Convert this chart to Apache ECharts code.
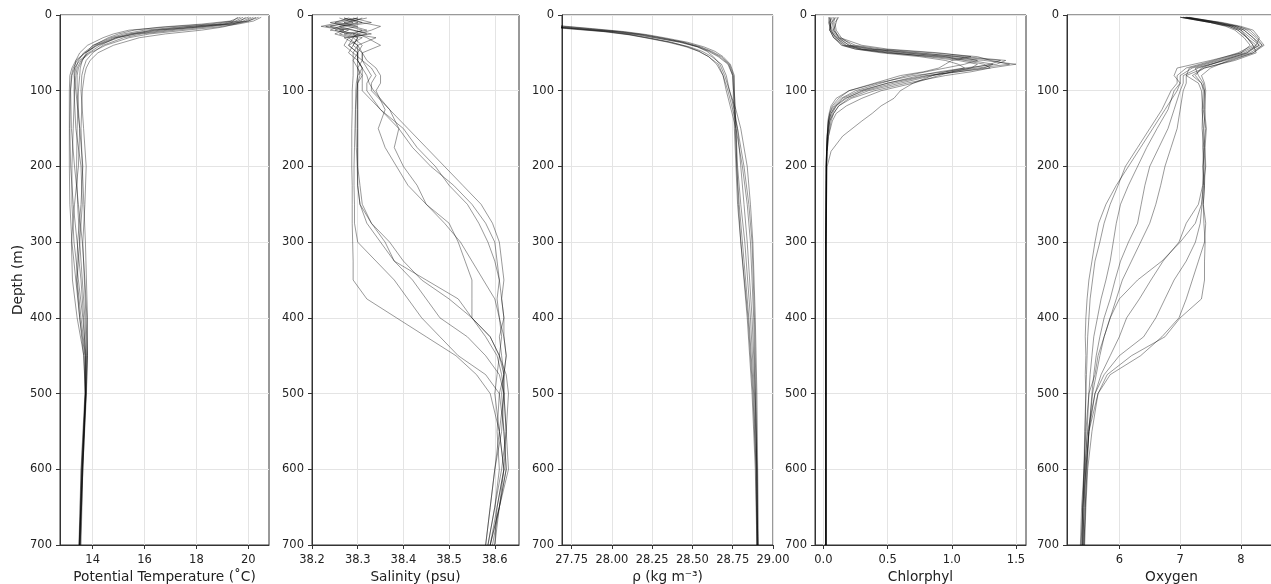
<!DOCTYPE html>
<html><head><meta charset="utf-8">
<script src="https://cdn.jsdelivr.net/npm/echarts@6/dist/echarts.min.js"></script>
<style>html,body{margin:0;padding:0;background:#fff}#c{width:1271px;height:584px}</style>
</head><body><div id="c"></div>
<script>
// ---------- DATA ----------
const DEPTH_TICKS = [0,100,200,300,400,500,600,700];

// Potential temperature profiles
const T_DEPTH = [3,8,12,16,20,25,30,40,50,60,70,80,100,150,200,250,300,350,400,450,500,600,700];
const TEMP = [
 [20.2,19.9,19.2,17.8,16.6,15.6,15.0,14.2,13.7,13.35,13.2,13.12,13.1,13.1,13.1,13.12,13.2,13.35,13.5,13.65,13.72,13.6,13.48],
 [19.9,19.7,19.0,17.3,16.0,15.2,14.7,14.0,13.75,13.6,13.52,13.5,13.45,13.4,13.38,13.42,13.5,13.6,13.7,13.76,13.74,13.62,13.52],
 [20.5,20.2,19.6,18.8,17.6,16.2,15.4,14.5,13.9,13.55,13.4,13.35,13.3,13.25,13.2,13.2,13.28,13.45,13.62,13.74,13.72,13.58,13.5],
 [19.6,19.4,18.5,16.8,15.4,14.8,14.4,13.8,13.5,13.35,13.3,13.28,13.35,13.5,13.62,13.55,13.42,13.38,13.5,13.7,13.72,13.6,13.5],
 [20.1,19.8,19.4,18.4,17.2,15.9,15.2,14.4,14.0,13.75,13.65,13.58,13.55,13.65,13.75,13.7,13.62,13.68,13.74,13.8,13.76,13.62,13.55],
 [19.8,19.5,18.8,17.5,16.3,15.4,14.8,14.1,13.8,13.6,13.45,13.4,13.4,13.5,13.45,13.3,13.18,13.22,13.4,13.66,13.72,13.56,13.48],
 [20.3,20.0,19.5,19.0,18.2,16.8,15.8,14.8,14.2,13.9,13.75,13.68,13.6,13.55,13.6,13.66,13.72,13.76,13.8,13.78,13.74,13.62,13.52],
 [19.7,19.3,18.2,16.6,15.6,15.0,14.6,14.05,13.65,13.45,13.35,13.3,13.28,13.35,13.55,13.6,13.5,13.4,13.55,13.72,13.73,13.6,13.5],
 [20.0,19.6,19.1,18.0,16.9,15.7,14.9,14.3,13.85,13.5,13.3,13.2,13.15,13.18,13.3,13.45,13.6,13.7,13.78,13.8,13.75,13.58,13.5],
 [20.4,20.0,19.3,18.1,16.4,15.5,14.9,14.15,13.7,13.4,13.25,13.18,13.14,13.12,13.15,13.25,13.4,13.55,13.65,13.72,13.7,13.55,13.47]
];

// Salinity profiles
const S_DEPTH = [4,10,15,20,25,30,40,50,60,70,80,90,100,125,150,175,200,225,250,275,300,325,350,375,400,425,450,475,500,550,600,650,700];
const SAL = [
 [38.30,38.26,38.22,38.27,38.25,38.28,38.27,38.29,38.29,38.29,38.29,38.289, 38.288,38.288,38.287,38.287,38.287,38.288,38.288,38.288,38.289,38.29,38.29,38.32,38.385,38.45,38.515,38.56,38.59,38.61,38.62,38.605,38.60],
 [38.27,38.31,38.26,38.24,38.30,38.29,38.28,38.30,38.29,38.30,38.30,38.297, 38.296,38.295,38.294,38.293,38.292,38.292,38.293,38.293,38.30,38.34,38.38,38.41,38.44,38.48,38.52,38.58,38.61,38.62,38.625,38.61,38.59],
 [38.28,38.25,38.29,38.32,38.27,38.30,38.29,38.28,38.30,38.30,38.31,38.30, 38.298,38.296,38.296,38.297,38.299,38.30,38.305,38.32,38.35,38.38,38.42,38.45,38.48,38.54,38.58,38.61,38.62,38.625,38.63,38.61,38.59],
 [38.31,38.28,38.24,38.29,38.33,38.27,38.30,38.29,38.31,38.30,38.305,38.30, 38.30,38.30,38.30,38.30,38.30,38.305,38.31,38.33,38.37,38.40,38.44,38.50,38.55,38.59,38.61,38.62,38.62,38.615,38.60,38.59,38.58],
 [38.29,38.33,38.27,38.25,38.28,38.31,38.28,38.30,38.30,38.31,38.30,38.30, 38.30,38.30,38.30,38.30,38.30,38.30,38.305,38.33,38.36,38.38,38.45,38.52,38.55,38.58,38.605,38.615,38.62,38.625,38.615,38.60,38.585],
 [38.26,38.29,38.23,38.28,38.26,38.29,38.31,38.30,38.30,38.31,38.32,38.325, 38.335,38.37,38.41,38.45,38.49,38.53,38.57,38.595,38.61,38.615,38.62,38.615,38.62,38.62,38.625,38.62,38.62,38.61,38.60,38.59,38.58],
 [38.32,38.27,38.30,38.26,38.29,38.34,38.30,38.31,38.31,38.32,38.33,38.32, 38.32,38.35,38.39,38.42,38.46,38.51,38.55,38.58,38.60,38.605,38.61,38.605,38.61,38.615,38.61,38.605,38.60,38.61,38.62,38.61,38.60],
 [38.28,38.31,38.35,38.33,38.30,38.32,38.35,38.31,38.32,38.34,38.35,38.35, 38.34,38.36,38.345,38.36,38.385,38.41,38.45,38.49,38.525,38.55,38.575,38.60,38.61,38.62,38.625,38.62,38.615,38.62,38.625,38.61,38.595],
 [38.30,38.24,38.28,38.31,38.29,38.30,38.29,38.31,38.31,38.33,38.34,38.33, 38.33,38.37,38.39,38.38,38.40,38.43,38.45,38.50,38.52,38.535,38.55,38.55,38.55,38.59,38.61,38.625,38.63,38.625,38.62,38.605,38.59],
 [38.27,38.30,38.26,38.29,38.32,38.28,38.30,38.30,38.30,38.31,38.31,38.31, 38.31,38.35,38.40,38.43,38.47,38.50,38.54,38.565,38.585,38.60,38.61,38.615,38.62,38.61,38.615,38.62,38.61,38.605,38.61,38.60,38.585]
];

// Density profiles
const D_DEPTH = [10,15,18,22,26,31,36,42,48,55,65,80,100,125,150,200,250,300,400,500,600,700];
const RHO = [
 [27.3,27.6,27.78,28.0,28.15,28.29,28.42,28.53,28.6,28.66,28.72,28.75,28.755,28.758,28.76,28.77,28.78,28.80,28.84,28.87,28.89,28.9],
 [27.35,27.65,27.82,28.04,28.19,28.32,28.45,28.55,28.62,28.68,28.73,28.755,28.76,28.765,28.77,28.775,28.785,28.80,28.845,28.875,28.895,28.90],
 [27.25,27.55,27.72,27.95,28.1,28.24,28.36,28.48,28.56,28.62,28.68,28.71,28.73,28.76,28.78,28.80,28.82,28.84,28.87,28.89,28.90,28.905],
 [27.4,27.7,27.86,28.06,28.2,28.33,28.44,28.53,28.59,28.63,28.67,28.70,28.73,28.77,28.80,28.84,28.86,28.875,28.89,28.90,28.905,28.91],
 [27.3,27.6,27.76,27.98,28.12,28.25,28.37,28.47,28.54,28.6,28.65,28.69,28.72,28.75,28.78,28.82,28.85,28.87,28.885,28.895,28.90,28.905],
 [27.32,27.62,27.8,28.02,28.17,28.3,28.43,28.54,28.61,28.67,28.725,28.75,28.755,28.76,28.765,28.775,28.79,28.81,28.85,28.88,28.895,28.9],
 [27.45,27.72,27.88,28.08,28.22,28.35,28.47,28.57,28.64,28.69,28.735,28.76,28.76,28.765,28.77,28.78,28.80,28.825,28.86,28.885,28.9,28.905],
 [27.28,27.58,27.74,27.96,28.11,28.23,28.35,28.46,28.54,28.6,28.66,28.69,28.71,28.74,28.77,28.81,28.84,28.86,28.88,28.89,28.9,28.905]
];

// Chlorophyll profiles
const C_DEPTH = [3,10,20,30,40,45,50,55,60,65,70,75,80,90,100,110,120,130,140,160,180,200,300,400,500,600,700];
const CHL = [
 [0.05,0.04,0.06,0.1,0.18,0.35,0.7,1.1,1.42,1.35,1.1,0.9,0.75,0.5,0.3,0.18,0.1,0.07,0.05,0.035,0.03,0.025,0.02,0.02,0.02,0.02,0.02],
 [0.08,0.07,0.08,0.12,0.25,0.45,0.85,1.2,1.3,1.45,1.2,1.0,0.85,0.6,0.35,0.2,0.12,0.08,0.06,0.04,0.03,0.025,0.02,0.02,0.02,0.02,0.02],
 [0.1,0.06,0.05,0.08,0.14,0.25,0.5,0.9,1.25,1.5,1.3,1.05,0.8,0.5,0.28,0.15,0.1,0.06,0.04,0.03,0.025,0.022,0.02,0.02,0.02,0.02,0.02],
 [0.04,0.05,0.07,0.11,0.2,0.3,0.55,0.8,1.05,1.2,1.15,1.0,0.9,0.7,0.45,0.3,0.18,0.1,0.07,0.04,0.03,0.025,0.02,0.02,0.02,0.02,0.02],
 [0.12,0.09,0.1,0.14,0.22,0.4,0.75,1.05,1.2,1.1,0.95,0.8,0.65,0.45,0.25,0.14,0.08,0.05,0.04,0.03,0.025,0.022,0.02,0.02,0.02,0.02,0.02],
 [0.06,0.05,0.06,0.09,0.15,0.25,0.45,0.75,0.95,1.05,1.1,0.95,0.85,0.7,0.6,0.55,0.45,0.38,0.3,0.15,0.06,0.03,0.02,0.02,0.02,0.02,0.02],
 [0.07,0.05,0.05,0.08,0.16,0.3,0.6,1.0,1.38,1.3,1.15,0.95,0.7,0.42,0.2,0.1,0.06,0.045,0.035,0.03,0.025,0.022,0.02,0.02,0.02,0.02,0.02],
 [0.09,0.08,0.09,0.12,0.2,0.38,0.65,0.95,1.1,1.25,1.3,1.15,0.95,0.65,0.4,0.22,0.12,0.08,0.05,0.035,0.028,0.024,0.02,0.02,0.02,0.02,0.02],
 [0.05,0.06,0.05,0.1,0.17,0.28,0.5,0.85,1.15,1.32,1.25,1.05,0.82,0.55,0.32,0.17,0.09,0.06,0.045,0.032,0.026,0.022,0.02,0.02,0.02,0.02,0.02],
 [0.11,0.1,0.08,0.13,0.3,0.5,0.9,1.15,1.0,0.95,0.9,0.78,0.6,0.4,0.2,0.12,0.07,0.05,0.04,0.03,0.025,0.022,0.02,0.02,0.02,0.02,0.02]
];

// Oxygen profiles
const O_DEPTH = [3,10,15,20,30,40,50,60,70,80,90,100,125,150,175,200,225,250,275,300,325,350,375,400,425,450,475,500,550,600,650,700];
const OXY = [
 [7.05,7.55,7.9,8.05,8.2,8.35,8.15,7.75,7.25,7.3,7.38,7.4,7.38,7.42,7.39,7.41,7.40,7.38,7.42,7.40,7.30,7.20,7.10,6.98,6.70,6.35,5.85,5.65,5.50,5.45,5.42,5.40],
 [7.1,7.7,8.0,8.2,8.3,8.25,8.0,7.6,7.15,7.1,7.3,7.35,7.37,7.36,7.39,7.37,7.40,7.38,7.39,7.41,7.40,7.40,7.35,7.0,6.75,6.2,5.8,5.65,5.55,5.48,5.45,5.43],
 [7.0,7.5,7.8,7.95,8.1,8.2,8.25,7.9,7.4,7.2,7.35,7.4,7.41,7.39,7.40,7.38,7.37,7.30,7.1,6.98,6.72,6.52,6.33,6.12,6.0,5.85,5.7,5.6,5.5,5.45,5.4,5.38],
 [7.15,7.65,7.95,8.1,8.25,8.35,8.2,7.8,7.5,7.35,7.40,7.42,7.40,7.43,7.41,7.42,7.38,7.35,7.25,7.0,6.7,6.3,6.0,5.85,5.75,5.65,5.6,5.5,5.45,5.42,5.4,5.4],
 [7.08,7.6,7.85,8.0,8.15,8.3,8.1,7.7,7.35,7.25,7.35,7.38,7.36,7.38,7.37,7.39,7.38,7.36,7.33,7.25,7.1,6.9,6.75,6.6,6.4,6.0,5.75,5.6,5.48,5.43,5.4,5.37],
 [7.0,7.5,7.75,7.9,8.05,8.15,8.0,7.5,6.95,6.9,7.0,6.95,6.75,6.55,6.35,6.15,5.95,5.78,5.66,5.6,5.55,5.5,5.47,5.45,5.44,5.45,5.44,5.45,5.43,5.42,5.4,5.4],
 [7.05,7.55,7.85,8.0,8.1,8.2,7.95,7.55,7.1,6.95,6.95,6.85,6.7,6.5,6.3,6.1,5.98,5.85,5.75,5.68,5.6,5.56,5.52,5.5,5.48,5.47,5.46,5.45,5.44,5.42,5.38,5.36],
 [7.1,7.6,7.9,8.05,8.2,8.3,8.05,7.65,7.2,7.0,7.0,6.9,6.8,6.62,6.45,6.3,6.15,6.02,5.95,5.9,5.85,5.78,5.7,5.64,5.58,5.55,5.52,5.5,5.47,5.44,5.42,5.4],
 [7.02,7.5,7.8,7.95,8.1,8.25,8.1,7.7,7.3,7.05,7.05,7.0,6.9,6.8,6.65,6.5,6.42,6.36,6.3,6.15,6.02,5.93,5.85,5.75,5.68,5.62,5.58,5.55,5.5,5.46,5.44,5.42],
 [7.12,7.65,7.95,8.15,8.28,8.38,8.2,7.85,7.4,7.1,7.1,7.05,7.0,6.95,6.85,6.75,6.68,6.6,6.5,6.35,6.2,6.05,5.95,5.85,5.75,5.68,5.62,5.56,5.5,5.47,5.44,5.42]
];

const X_TITLES = ['Potential Temperature (\u02DAC)', 'Salinity (psu)', '\u03C1 (kg m\u207B\u00B3)', 'Chlorphyl', 'Oxygen'];
const X_TICKS = [[14,16,18,20],[38.2,38.3,38.4,38.5,38.6],[27.75,28.0,28.25,28.5,28.75,29.0],[0,0.5,1.0,1.5],[6,7,8]];
const X_DECIMALS = [0,1,2,1,0];
const X_RANGE = [[12.74,20.8],[38.2,38.653],[27.69,29.0],[-0.065,1.578],[5.14,8.575]];

// ---------- LAYOUT ----------
const LEFTS = [60,312,562,815,1067];
const WIDTHS = [209,207,211,211,209];
const FONT = 'DejaVu Sans';

const panels = [
  {depth:T_DEPTH, profiles:TEMP},
  {depth:S_DEPTH, profiles:SAL},
  {depth:D_DEPTH, profiles:RHO},
  {depth:C_DEPTH, profiles:CHL},
  {depth:O_DEPTH, profiles:OXY}
];

const grid=[], xAxis=[], yAxis=[], series=[];
panels.forEach((p,i)=>{
  grid.push({left:LEFTS[i], top:15, width:WIDTHS[i], height:530, show:true, borderColor:'#333', borderWidth:1,
    backgroundColor:'transparent', containLabel:false, outerBoundsMode:'none'});
  xAxis.push({
    gridIndex:i, type:'value', min:X_RANGE[i][0], max:X_RANGE[i][1], position:'bottom',
    axisLine:{show:true, onZero:false, lineStyle:{color:'#333'}},
    axisTick:{show:true, length:4, customValues:X_TICKS[i], lineStyle:{color:'#333'}},
    axisLabel:{customValues:X_TICKS[i], color:'#222', fontSize:11.5, fontFamily:FONT, margin:9,
      formatter:v=>Number(v).toFixed(X_DECIMALS[i])},
    splitLine:{show:true, lineStyle:{color:'#e4e4e4', width:1}},
    name:X_TITLES[i], nameLocation:'middle', nameGap:25,
    nameTextStyle:{fontSize:13.7, color:'#222', fontFamily:FONT}
  });
  yAxis.push({
    gridIndex:i, type:'value', inverse:true, min:0, max:700, interval:100,
    axisLine:{show:true, onZero:false, lineStyle:{color:'#333'}},
    axisTick:{show:true, length:4, lineStyle:{color:'#333'}},
    axisLabel:{color:'#222', fontSize:11.5, fontFamily:FONT, margin:8},
    splitLine:{show:true, lineStyle:{color:'#e4e4e4', width:1}},
    name: i===0 ? 'Depth (m)' : '', nameLocation:'middle', nameGap:35,
    nameTextStyle:{fontSize:13.7, color:'#222', fontFamily:FONT}
  });
  p.profiles.forEach((vals,k)=>{
    series.push({
      type:'line', xAxisIndex:i, yAxisIndex:i, showSymbol:false, symbol:'none', silent:true,
      clip:true, animation:false,
      lineStyle:{color:'rgba(0,0,0,0.4)', width:1},
      data:p.depth.map((d,j)=>[vals[j], d])
    });
  });
});

const chart = echarts.init(document.getElementById('c'), null, {renderer:'canvas'});
chart.setOption({animation:false, grid, xAxis, yAxis, series});
</script></body></html>
